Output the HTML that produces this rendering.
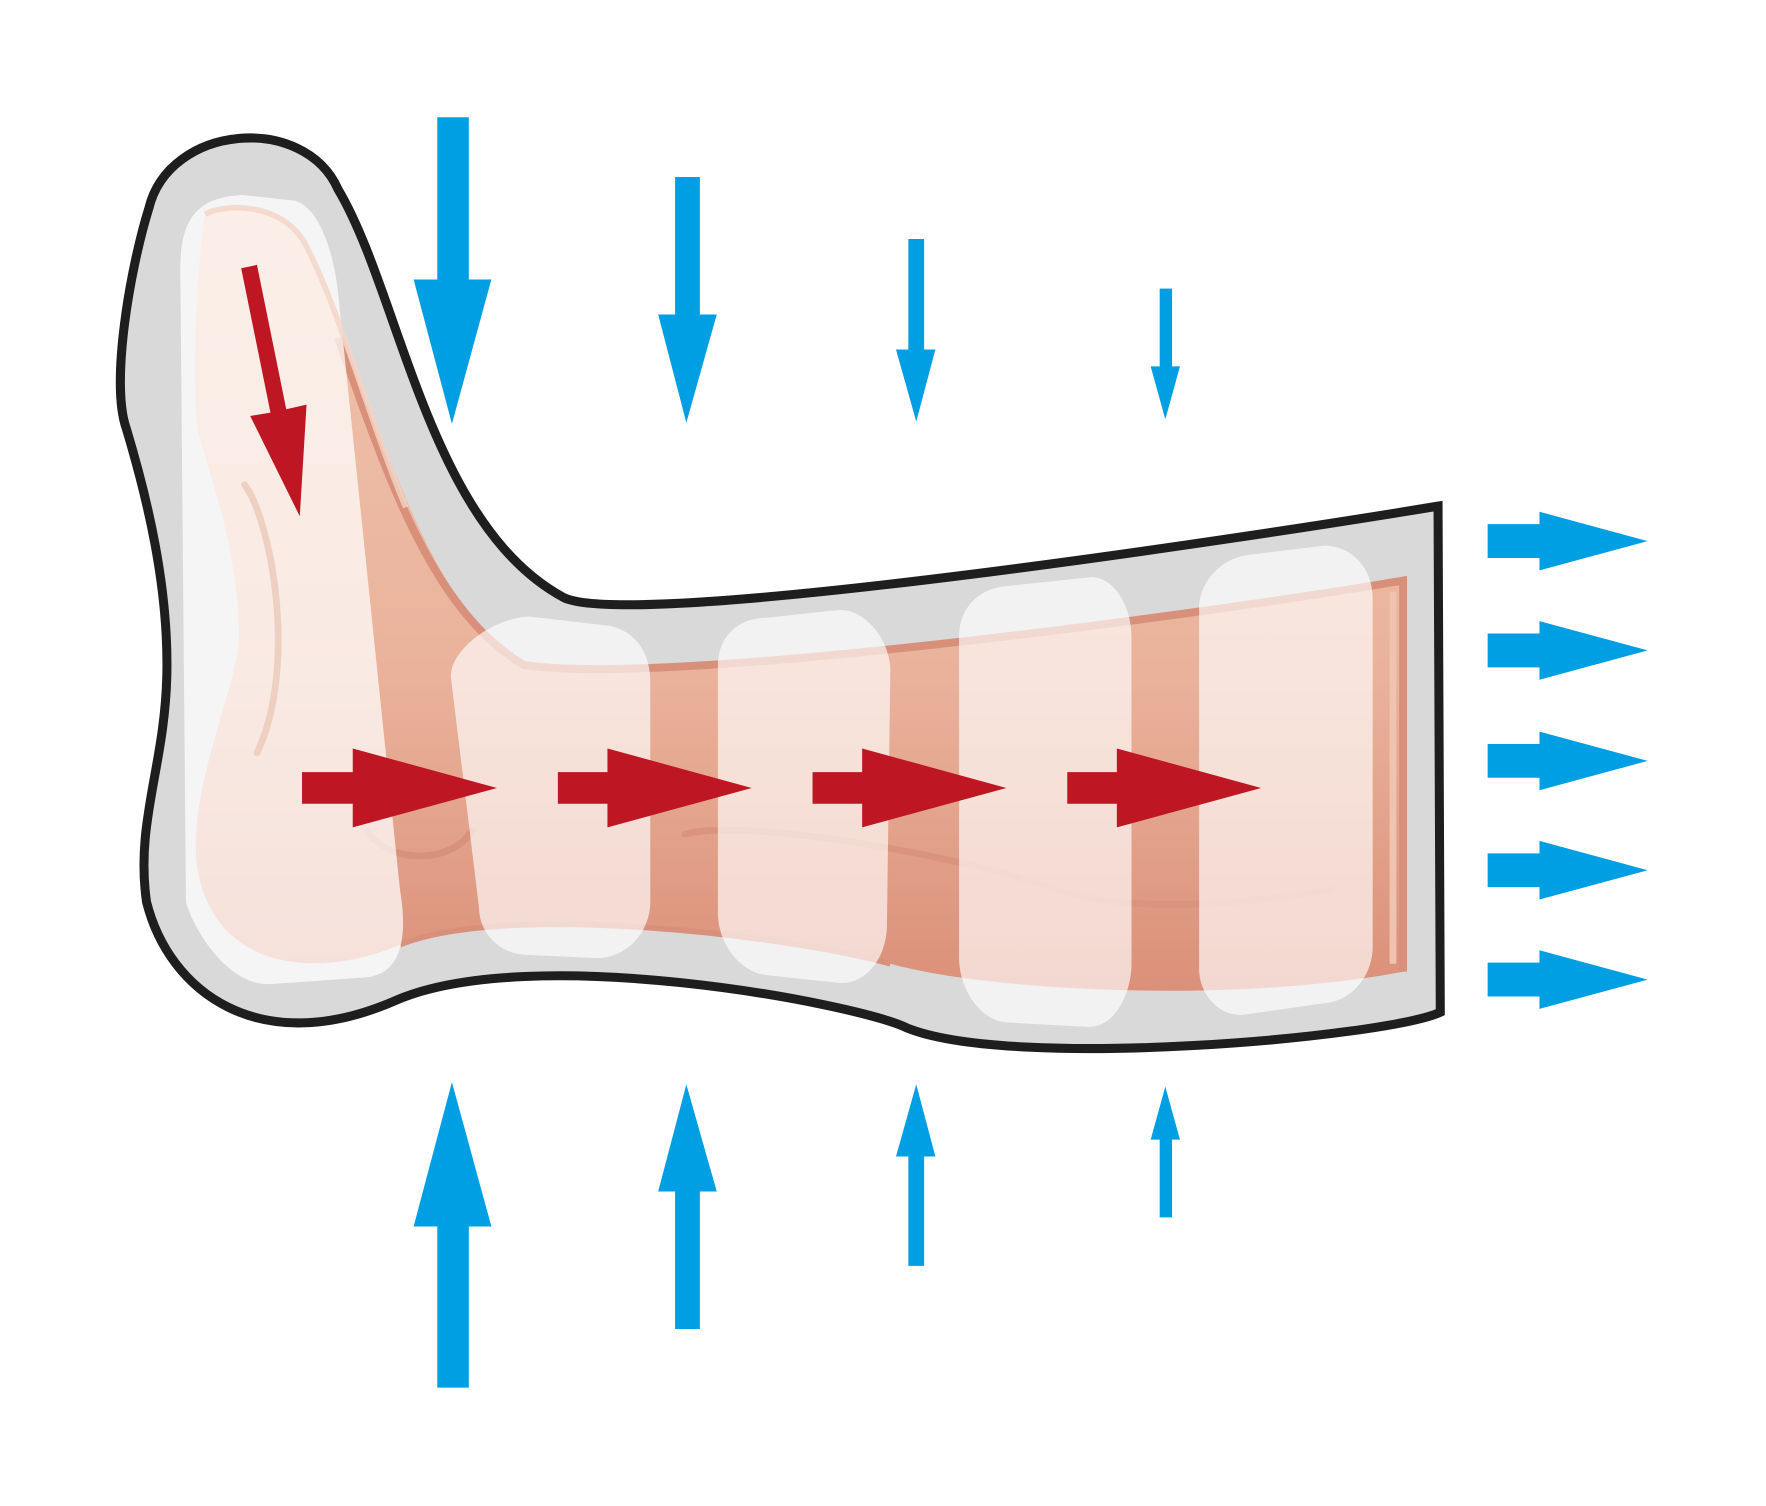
<!DOCTYPE html>
<html><head><meta charset="utf-8"><style>html,body{margin:0;padding:0;background:#fff}svg{display:block}</style></head>
<body>
<svg width="1766" height="1506" viewBox="0 0 1567 1336" preserveAspectRatio="none" xmlns="http://www.w3.org/2000/svg">
<defs>
<linearGradient id="fl" x1="0" y1="0" x2="0" y2="1">
<stop offset="0" stop-color="#f0c4ad"/><stop offset="0.6" stop-color="#eab29b"/><stop offset="1" stop-color="#db9079"/>
</linearGradient>
</defs>
<path d="M300,168 C270,100 150,110 132,185 C115,240 98,340 112,380 C130,440 150,520 148,600 C146,680 120,730 130,800 C150,880 230,940 350,888 C470,835 760,890 805,912 C900,950 1230,920 1278,898 L1276,449 C1100,478 560,560 500,530 C380,465 355,260 300,168 Z" fill="#d9d9d9" stroke="#1e1e1e" stroke-width="8"/>
<path d="M182,190 C200,180 250,180 270,215 C320,310 370,540 465,590 C600,610 1100,540 1245,515 L1245,862 C1100,890 880,880 790,855 C700,830 450,800 355,838 C280,870 190,860 175,770 C165,700 215,600 212,560 C210,480 185,420 175,380 C170,330 175,230 182,190 Z" fill="url(#fl)"/>
<path d="M300,300 C340,410 380,540 465,590 C600,610 1100,540 1245,515 L1245,862" fill="none" stroke="#d8907a" stroke-width="7"/>
<path d="M1236,525 L1236,855" stroke="#efc3ae" stroke-width="6" fill="none"/>
<path d="M355,838 C450,800 700,830 790,855" fill="none" stroke="#d8907a" stroke-width="5"/>
<path d="M608,740 C660,725 860,760 940,790 C1020,815 1150,795 1182,789" fill="none" stroke="#d8917a" stroke-width="6" stroke-linecap="round" opacity="0.8"/>
<path d="M325,735 C340,765 400,770 420,735" fill="none" stroke="#d8917a" stroke-width="6"/>
<path d="M160,240 C160,200 170,175 215,173 L262,178 C285,185 297,230 300,260 L355,790 C365,850 345,865 325,867 L240,873 C200,875 170,820 165,800 Z" fill="#fff" opacity="0.72"/>
<path d="M182,190 C200,180 250,180 270,215 C300,270 330,380 360,450" fill="none" stroke="#f2d4c6" stroke-width="5" opacity="0.8"/>
<path d="M217,430 C240,460 265,590 228,668" fill="none" stroke="#eed0c2" stroke-width="6" stroke-linecap="round"/>
<path d="M400,600 C400,575 440,547 470,547 L540,555 C565,560 577,580 577,605 L577,800 C577,828 555,850 530,850 L465,847 C440,845 425,825 425,805 Z" fill="#fff" opacity="0.65"/>
<path d="M637,590 C637,565 655,548 680,548 L745,541 C770,541 790,570 790,595 L787,820 C787,848 770,873 745,872 L680,865 C655,862 637,835 637,810 Z" fill="#fff" opacity="0.65"/>
<path d="M851,565 C851,540 868,522 893,520 L968,512 C990,512 1004,540 1004,565 L1004,855 C1004,880 990,912 965,911 L893,907 C868,905 851,875 851,850 Z" fill="#fff" opacity="0.65"/>
<path d="M1064,540 C1064,515 1085,494 1110,492 L1175,484 C1200,484 1218,505 1218,530 L1218,840 C1218,865 1200,888 1175,890 L1105,900 C1080,903 1064,880 1064,860 Z" fill="#fff" opacity="0.65"/>
<g fill="#be1622">
<path d="M214,238 L228,235 L254,363 L272,359 L266,458 L222,369 L240,366 Z"/>
<path d="M268,685 H313 V664 L441,699 L313,734 V713 H268 Z"/>
<path d="M495,685 H539 V664 L667,699 L539,734 V713 H495 Z"/>
<path d="M721,685 H765 V664 L893,699 L765,734 V713 H721 Z"/>
<path d="M947,685 H991 V664 L1119,699 L991,734 V713 H947 Z"/>
</g>
<g fill="#009fe3">
<path d="M388,104 H416 V248 H436 L401,376 L367,248 H388 Z"/>
<path d="M599,157 H621 V279 H636 L609,375 L584,279 H599 Z"/>
<path d="M806,212 H820 V310 H830 L813,374 L795,310 H806 Z"/>
<path d="M1029,256 H1040 V325 H1047 L1034,372 L1021,325 H1029 Z"/>
<path d="M388,1231 H416 V1088 H436 L401,960 L367,1088 H388 Z"/>
<path d="M599,1179 H621 V1057 H636 L609,962 L584,1057 H599 Z"/>
<path d="M806,1123 H820 V1026 H830 L813,962 L795,1026 H806 Z"/>
<path d="M1029,1080 H1040 V1011 H1047 L1034,964 L1021,1011 H1029 Z"/>
<path d="M1320,465 H1366 V454 L1462,480 L1366,506 V495 H1320 Z"/>
<path d="M1320,562 H1366 V551 L1462,577 L1366,603 V592 H1320 Z"/>
<path d="M1320,660 H1366 V649 L1462,675 L1366,701 V690 H1320 Z"/>
<path d="M1320,757 H1366 V746 L1462,772 L1366,798 V787 H1320 Z"/>
<path d="M1320,854 H1366 V843 L1462,869 L1366,895 V884 H1320 Z"/>
</g>
</svg>
</body></html>
